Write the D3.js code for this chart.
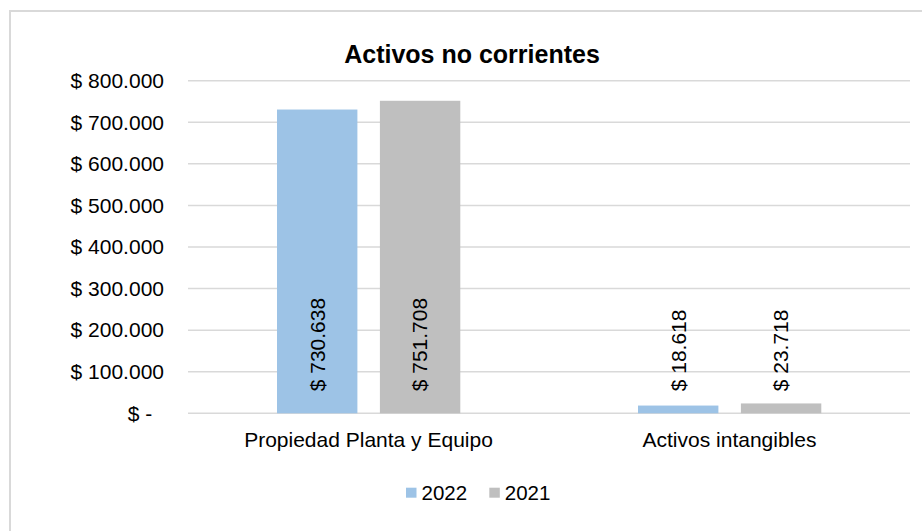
<!DOCTYPE html>
<html>
<head>
<meta charset="utf-8">
<script src="https://cdn.jsdelivr.net/npm/d3@7"></script>
<style>
  body { margin: 0; background: #fff; }
  text { font-family: "Liberation Sans", Arial, sans-serif; fill: #000; }
</style>
</head>
<body>
<div id="main"></div>
<script>
// data
const categories = ["Propiedad Planta y Equipo", "Activos intangibles"]
const series = ["2022", "2021"]
const values2022 = [730638, 18618]
const values2021 = [751708, 23718]
const yTicks = [0, 100000, 200000, 300000, 400000, 500000, 600000, 700000, 800000]
const colors = ["#9DC3E6", "#BFBFBF"]

const W = 922, H = 531
let margin = {top: 80.7, right: 12, bottom: 117.7, left: 188}
let pxX = W - margin.left - margin.right,
    pxY = H - margin.top - margin.bottom

const loc = d3.formatLocale({decimal: ",", thousands: ".", grouping: [3], currency: ["$ ", ""]})
const fmt = loc.format("$,.0f")
const label = v => v === 0 ? "$ -\u2007" : fmt(v)

let svg = d3.select("#main").append("svg")
    .attr("width", W)
    .attr("height", H)

// frame
svg.append("rect")
    .attr("x", 10).attr("y", 11)
    .attr("width", W + 20).attr("height", H + 20)
    .attr("fill", "none")
    .attr("stroke", "#d9d9d9")
    .attr("stroke-width", 2)

svg.append("text")
    .attr("x", 472).attr("y", 63)
    .attr("text-anchor", "middle")
    .style("font-size", "25px")
    .style("font-weight", "bold")
    .text("Activos no corrientes")

let g = svg.append("g")
    .attr("transform", `translate(${margin.left} ${margin.top})`)

let scY = d3.scaleLinear().domain([0, 800000]).range([pxY, 0])
let scX = d3.scaleBand().domain(categories).range([0, pxX])
let scS = d3.scaleBand().domain(series)
    .range([89, 272.3])
    .paddingInner(0.2187)

// gridlines
g.selectAll("line.grid").data(yTicks).enter()
    .append("line")
    .attr("x1", 0).attr("x2", pxX)
    .attr("y1", d => scY(d)).attr("y2", d => scY(d))
    .attr("stroke", "#d9d9d9")
    .attr("stroke-width", 1.5)

// y axis labels
let axis = d3.axisLeft(scY).tickValues(yTicks).tickFormat(label).tickSize(0).tickPadding(24)
g.append("g").call(axis)
    .call(a => a.select(".domain").remove())
    .selectAll("text")
    .style("font-size", "21px")
    .style("font-family", "'Liberation Sans', Arial, sans-serif")

// category labels
categories.forEach(c => {
    g.append("text")
        .attr("x", scX(c) + scX.bandwidth() / 2)
        .attr("y", pxY + 34)
        .attr("text-anchor", "middle")
        .style("font-size", "21px")
        .text(c)
})

const allVals = [values2022, values2021]
series.forEach((s, si) => {
    let vals = allVals[si]
    g.selectAll("rect.s" + si).data(vals).enter()
        .append("rect")
        .attr("x", (d, i) => scX(categories[i]) + scS(s))
        .attr("width", scS.bandwidth())
        .attr("y", d => scY(d))
        .attr("height", d => pxY - scY(d))
        .attr("fill", colors[si])

    g.selectAll("text.s" + si).data(vals).enter()
        .append("text")
        .attr("transform", (d, i) => {
            let cx = scX(categories[i]) + scS(s) + scS.bandwidth() / 2
            return `translate(${cx}, ${pxY - 22}) rotate(-90)`
        })
        .attr("dy", "0.35em")
        .style("font-size", "21px")
        .text(d => fmt(d))
})

// legend
series.forEach((s, i) => {
    let lx = 406 + i * 83.3
    svg.append("rect")
        .attr("x", lx).attr("y", 487.7)
        .attr("width", 10.5).attr("height", 10)
        .attr("fill", colors[i])
    svg.append("text")
        .attr("x", lx + 15.5).attr("y", 500)
        .style("font-size", "20.5px")
        .text(s)
})
</script>
</body>
</html>
